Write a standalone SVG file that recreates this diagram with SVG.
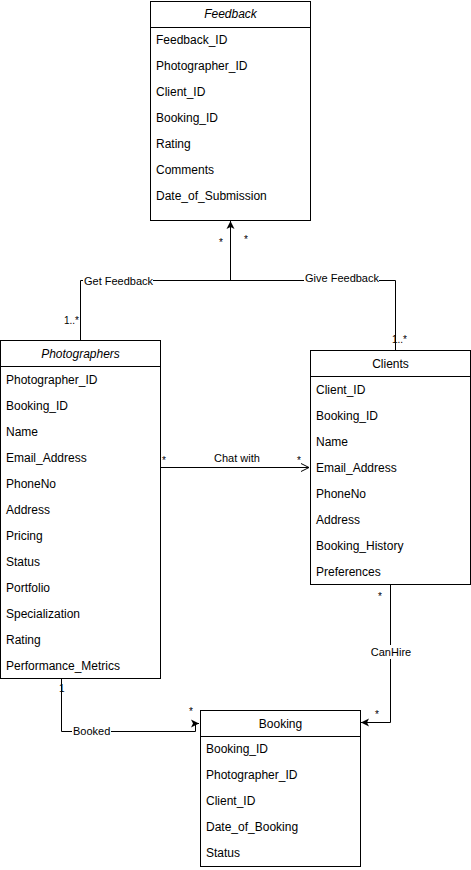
<svg xmlns="http://www.w3.org/2000/svg" width="471" height="870" viewBox="0 0 471 870">
<style>
text{font-family:"Liberation Sans",Arial,sans-serif;font-size:12px;fill:#000}
.box{fill:#fff;stroke:#000;stroke-width:1}
.t{text-anchor:middle}
.i{font-style:italic}
.ln{fill:none;stroke:#000;stroke-width:1}
.lbl{font-size:11px}
.m{font-size:10px}
</style>
<defs>
<marker id="fa" markerWidth="10" markerHeight="10" refX="9" refY="5" orient="auto" markerUnits="userSpaceOnUse"><path d="M1,1 L9,5 L1,9 L3,5 Z" fill="#000"/></marker>
<marker id="oa" markerWidth="10" markerHeight="10" refX="9" refY="5" orient="auto" markerUnits="userSpaceOnUse"><path d="M1,1 L9,5 L1,9" fill="none" stroke="#000"/></marker>
</defs>
<rect width="471" height="870" fill="#fff"/>
<g id="connectors">
<path class="ln" d="M80.5,340 V280.5 H395.5 V350" />
<path class="ln" d="M230.5,280 V221" marker-end="url(#fa)"/>
<rect x="83" y="274" width="70" height="13" fill="#fff"/>
<text class="lbl" x="84" y="285">Get Feedback</text>
<rect x="304" y="274" width="75" height="13" fill="#fff"/>
<text class="lbl" x="305" y="282">Give Feedback</text>
<text class="m" x="219" y="246">*</text>
<text class="m" x="244" y="243">*</text>
<text class="m" x="64" y="324">1..*</text>
<text class="m" x="392" y="343">1..*</text>
<path class="ln" d="M160,467.5 H309" marker-end="url(#oa)"/>
<text class="lbl t" x="237" y="462">Chat with</text>
<text class="m" x="162" y="464">*</text>
<text class="m" x="297" y="464">*</text>
<path class="ln" d="M61.5,678 V731.5 H195.5 V723.5 H199" marker-end="url(#fa)"/>
<rect x="72" y="725" width="39" height="13" fill="#fff"/>
<text class="lbl" x="73" y="735">Booked</text>
<text class="m" x="59" y="692">1</text>
<text class="m" x="189" y="715">*</text>
<path class="ln" d="M390.5,584 V722.5 H361" marker-end="url(#fa)"/>
<rect x="370" y="645" width="42" height="14" fill="#fff"/>
<text class="lbl t" x="391" y="656">CanHire</text>
<text class="m" x="378" y="600">*</text>
<text class="m" x="375" y="718">*</text>
</g>
<g id="feedback">
<rect class="box" x="150.5" y="1.5" width="160" height="219"/>
<line class="ln" x1="150.5" y1="27.5" x2="310.5" y2="27.5"/>
<text class="t i" x="230.5" y="18">Feedback</text>
<text x="156" y="44">Feedback_ID</text>
<text x="156" y="70">Photographer_ID</text>
<text x="156" y="96">Client_ID</text>
<text x="156" y="122">Booking_ID</text>
<text x="156" y="148">Rating</text>
<text x="156" y="174">Comments</text>
<text x="156" y="200">Date_of_Submission</text>
</g>
<g id="photographers">
<rect class="box" x="0.5" y="340.5" width="160" height="338"/>
<line class="ln" x1="0.5" y1="366.5" x2="160.5" y2="366.5"/>
<text class="t i" x="80.5" y="358">Photographers</text>
<text x="6" y="384">Photographer_ID</text>
<text x="6" y="410">Booking_ID</text>
<text x="6" y="436">Name</text>
<text x="6" y="462">Email_Address</text>
<text x="6" y="488">PhoneNo</text>
<text x="6" y="514">Address</text>
<text x="6" y="540">Pricing</text>
<text x="6" y="566">Status</text>
<text x="6" y="592">Portfolio</text>
<text x="6" y="618">Specialization</text>
<text x="6" y="644">Rating</text>
<text x="6" y="670">Performance_Metrics</text>
</g>
<g id="clients">
<rect class="box" x="310.5" y="350.5" width="160" height="234"/>
<line class="ln" x1="310.5" y1="376.5" x2="470.5" y2="376.5"/>
<text class="t" x="390.5" y="368">Clients</text>
<text x="316" y="394">Client_ID</text>
<text x="316" y="420">Booking_ID</text>
<text x="316" y="446">Name</text>
<text x="316" y="472">Email_Address</text>
<text x="316" y="498">PhoneNo</text>
<text x="316" y="524">Address</text>
<text x="316" y="550">Booking_History</text>
<text x="316" y="576">Preferences</text>
</g>
<g id="booking">
<rect class="box" x="200.5" y="710.5" width="160" height="156"/>
<line class="ln" x1="200.5" y1="736.5" x2="360.5" y2="736.5"/>
<text class="t" x="280.5" y="728">Booking</text>
<text x="206" y="753">Booking_ID</text>
<text x="206" y="779">Photographer_ID</text>
<text x="206" y="805">Client_ID</text>
<text x="206" y="831">Date_of_Booking</text>
<text x="206" y="857">Status</text>
</g>
</svg>
